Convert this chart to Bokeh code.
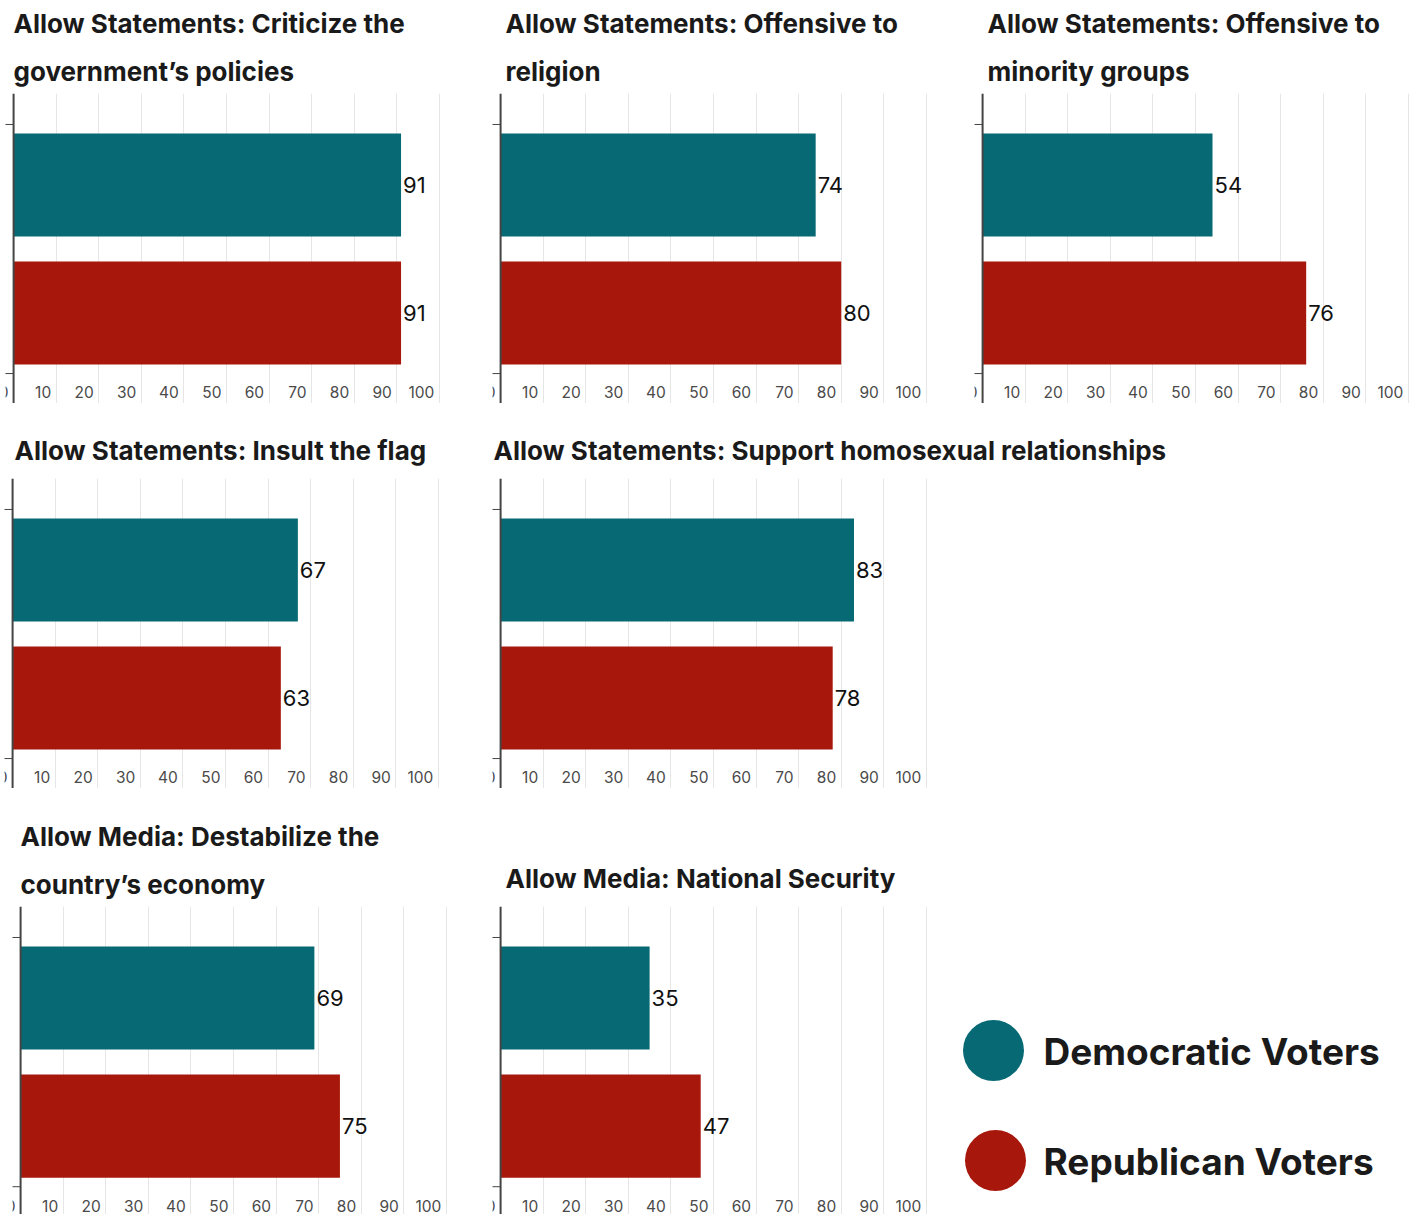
from bokeh.plotting import figure
from bokeh.layouts import row, column
from bokeh.models import Range1d, FixedTicker, Title, Span
from bokeh.core.properties import value
from bokeh.embed import file_html
from bokeh.resources import INLINE

# Survey results: share (%) who would allow each kind of statement / media content
question_titles = [
    ["Allow Statements: Criticize the", "government’s policies"],
    ["Allow Statements: Offensive to", "religion"],
    ["Allow Statements: Offensive to", "minority groups"],
    ["Allow Statements: Insult the flag"],
    ["Allow Statements: Support homosexual relationships"],
    ["Allow Media:  Destabilize the", "country’s economy"],
    ["Allow Media: National Security"],
]
dem_values = [91, 74, 54, 67, 83, 69, 35]
rep_values = [91, 80, 76, 63, 78, 75, 47]

series_names = ["Democratic Voters", "Republican Voters"]
series_colors = ["#066974", "#a8170c"]

tick_values = [0, 10, 20, 30, 40, 50, 60, 70, 80, 90, 100]
tick_labels = ["0", "10", "20", "30", "40", "50", "60", "70", "80", "90", "100"]

TITLE_FONT = "Inter"
NUM_FONT = "Inter"
FRAME_W = 436          # x range -1.9 .. 100.5
Y_TOP = 1.715
BAND_EDGES = [-0.473, 1.473]
AXIS_COLOR = "#444444"
TOP_TRIM = 7           # slack above the first row's titles


def make_panel(title_lines, dem, rep, left, right, top, frame_h, y_bottom,
               title_offset, standoffs):
    p = figure(
        frame_width=FRAME_W, frame_height=frame_h,
        x_range=Range1d(-1.9, 100.5), y_range=Range1d(y_bottom, Y_TOP),
        min_border_left=left, min_border_right=right,
        min_border_top=top, min_border_bottom=0,
        output_backend="svg", toolbar_location=None,
        x_axis_location=None, y_axis_location=None,
        title=None,
    )
    p.outline_line_color = None
    p.background_fill_color = "white"
    p.border_fill_color = "white"

    # vertical guide lines every 10 points
    p.xgrid.ticker = FixedTicker(ticks=tick_values)
    p.xgrid.grid_line_color = "#e6e6e6"
    p.xgrid.grid_line_width = 1
    p.ygrid.visible = False

    p.hbar(y=[1, 0], left=0, right=[dem, rep], height=0.805,
           color=series_colors, line_color=None)

    # value axis baseline and the two short ticks at the band edges
    p.add_layout(Span(location=0, dimension="height",
                      line_color=AXIS_COLOR, line_width=2))
    p.segment(x0=[-2.15] * 2, x1=[0] * 2, y0=BAND_EDGES, y1=BAND_EDGES,
              line_color=AXIS_COLOR, line_width=1)

    p.text(x=[dem, rep], y=[1, 0], text=[str(dem), str(rep)],
           x_offset=2, text_align="left", text_baseline="middle",
           text_font=value(NUM_FONT), text_font_size="22px", text_color="#111111")

    p.text(x=tick_values, y=[-0.62] * len(tick_values), text=tick_labels,
           x_offset=-5, text_align="right", text_baseline="middle",
           text_font=value(NUM_FONT), text_font_size="15.5px", text_color="#4a4a4a")

    for line, so in zip(reversed(title_lines), standoffs):
        p.add_layout(Title(text=line, offset=title_offset, standoff=so,
                           text_font=TITLE_FONT, text_font_size="26px",
                           text_font_style="bold", text_color="#1a1a1a"), "above")
    return p


def make_legend(width, top, frame_h):
    lg = figure(frame_width=width, frame_height=frame_h,
                x_range=Range1d(0, width), y_range=Range1d(frame_h, 0),
                min_border_left=0, min_border_right=0, min_border_bottom=0,
                min_border_top=top,
                output_backend="svg", toolbar_location=None,
                x_axis_location=None, y_axis_location=None)
    lg.outline_line_color = None
    lg.xgrid.visible = False
    lg.ygrid.visible = False
    ys = [144, 254]
    lg.scatter(x=[60, 62], y=ys, size=61, marker="circle",
               color=series_colors, line_color=None)
    lg.text(x=[110, 110], y=[y + 1 for y in ys], text=series_names,
            text_align="left", text_baseline="middle",
            text_font=value(TITLE_FONT), text_font_style="bold",
            text_font_size="37px", text_color="#1a1a1a")
    return lg


two = [13, 17]
one = [26]
p1 = make_panel(question_titles[0], dem_values[0], rep_values[0], 5, 20, 93 + TOP_TRIM, 310, -0.707, 8, two)
p2 = make_panel(question_titles[1], dem_values[1], rep_values[1], 31, 20, 93 + TOP_TRIM, 310, -0.707, 13, two)
p3 = make_panel(question_titles[2], dem_values[2], rep_values[2], 26, 5, 93 + TOP_TRIM, 310, -0.707, 13, two)
p4 = make_panel(question_titles[3], dem_values[3], rep_values[3], 4, 20, 75, 310, -0.707, 10, one)
p5 = make_panel(question_titles[4], dem_values[4], rep_values[4], 32, 480, 75, 310, -0.707, 1, one)
p6 = make_panel(question_titles[5], dem_values[5], rep_values[5], 12, 20, 118, 308, -0.69, 8, two)
p7 = make_panel(question_titles[6], dem_values[6], rep_values[6], 24, 5, 118, 308, -0.69, 13, one)
legend_fig = make_legend(480, 118, 308)

layout = column(
    row(p1, p2, p3, spacing=0),
    row(p4, p5, spacing=0),
    row(p6, p7, legend_fig, spacing=0),
    spacing=0,
    styles={"margin-top": f"-{TOP_TRIM}px"},
)

with open("out.html", "w") as f:
    f.write(file_html(layout, INLINE, title="Free speech attitudes by party"))
